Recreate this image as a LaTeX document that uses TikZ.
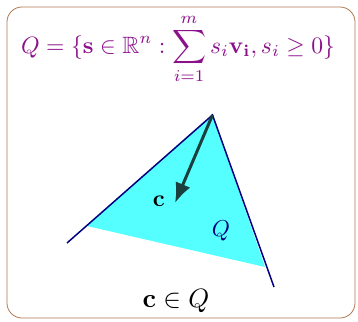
\documentclass[tikz,border=0pt]{standalone}
\usepackage{amsmath,amssymb}
\usetikzlibrary{arrows.meta}
\definecolor{framebrown}{HTML}{B07850}
\definecolor{formpurple}{HTML}{8B108B}
\definecolor{conefill}{HTML}{55FFFF}
\definecolor{edgeblue}{HTML}{000080}
\definecolor{arrowteal}{HTML}{1A3F3F}
\begin{document}
\begin{tikzpicture}[x=1pt,y=-1pt,
  lab/.style={inner sep=0pt}]
\useasboundingbox (0,0) rectangle (358,321);
\draw[framebrown,rounded corners=15pt,line width=0.8pt] (7,7) rectangle (355,318);
\node[lab,text=formpurple] (title) at (178,49)
  {\scalebox{2.36}{$\displaystyle Q=\{\mathbf{s}\in\mathbb{R}^n:\sum_{i=1}^m s_i\mathbf{v_i},s_i\geq 0\}$}};
\coordinate (A) at (212.5,115);
\coordinate (L) at (67,243);
\coordinate (R) at (274,287);
\coordinate (FL) at (87,226);
\coordinate (FR) at (265,267);
\fill[conefill] (A) -- (FL) -- (FR) -- cycle;
\draw[edgeblue,line width=1.5pt] (L) -- (A) -- (R);
\coordinate (tip) at (175,203);
\draw[arrowteal,line width=3pt,-{Latex[length=20pt,width=16pt]}] (A) -- (tip);
\node[lab] (c) at (159,201) {\scalebox{2.35}{$\mathbf{c}$}};
\node[lab,text=edgeblue] (Q) at (221,231) {\scalebox{2.3}{$Q$}};
\node[lab] (member) at (176,301) {\scalebox{2.65}{$\mathbf{c}\in Q$}};
\end{tikzpicture}
\end{document}
